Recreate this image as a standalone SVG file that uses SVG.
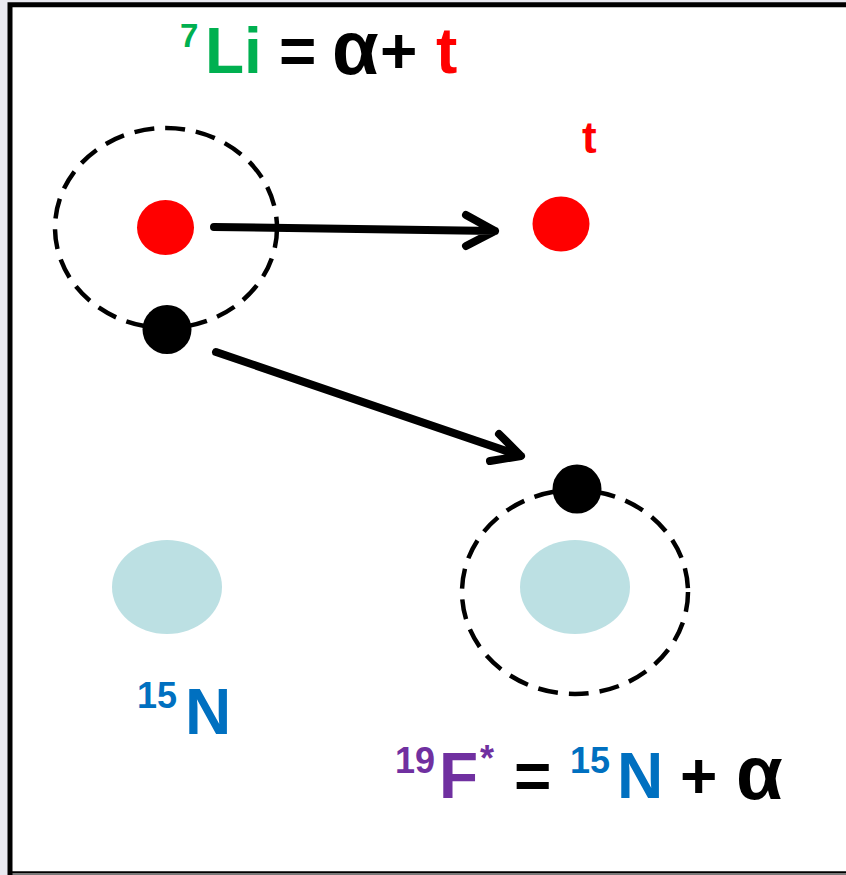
<svg xmlns="http://www.w3.org/2000/svg" width="846" height="875" viewBox="0 0 846 875">
<defs>
<style>
.t{font-family:"Liberation Sans",Arial,sans-serif;font-weight:bold}
.orb{fill:none;stroke:#000;stroke-width:4.5;stroke-dasharray:20 11}
.arr{fill:none;stroke:#000;stroke-width:8;stroke-linecap:round;stroke-linejoin:round}
.core{fill:#bce0e3}
</style>
</defs>
<rect x="0" y="0" width="846" height="875" fill="#e9e9f0"/>
<rect x="10" y="4.75" width="850" height="869" fill="#fff" stroke="#000" stroke-width="5"/>
<line x1="12.5" y1="874" x2="846" y2="874" stroke="#a0a0a0" stroke-width="1.5"/>

<g id="li-orbit">
<ellipse class="orb" cx="166" cy="228" rx="111" ry="100"/>
</g>
<g id="f-orbit">
<ellipse class="orb" cx="575" cy="592" rx="113" ry="102"/>
</g>
<g id="triton-1"><ellipse cx="165.5" cy="227.5" rx="28.5" ry="27.5" fill="#ff0000"/></g>
<g id="alpha-1"><circle cx="167" cy="329.5" r="24.5" fill="#000"/></g>
<g id="triton-2"><ellipse cx="561" cy="224" rx="28.5" ry="27.5" fill="#ff0000"/></g>
<g id="n15-left"><ellipse class="core" cx="167" cy="587" rx="55" ry="47"/></g>
<g id="n15-right"><ellipse class="core" cx="575" cy="587" rx="55" ry="47"/></g>
<g id="alpha-2"><circle cx="577" cy="489" r="24.5" fill="#000"/></g>

<g id="connectors">
<path class="arr" d="M214,227 L495,231 M466,215 L495,231 L466,246"/>
<path class="arr" d="M216,352 L521,456 M499,434 L521,456 L490,461"/>
</g>

<g id="title">
<text class="t" x="180" y="47" font-size="33" fill="#00b050">7</text>
<text class="t" x="205" y="73" font-size="64" fill="#00b050">Li</text>
<text class="t" x="279" y="73" font-size="64" fill="#000">=</text>
<text class="t" x="332" y="74" font-size="76" fill="#000">α</text>
<text class="t" x="380" y="73" font-size="64" fill="#000">+</text>
<text class="t" x="436" y="73" font-size="64" fill="#ff0000">t</text>
</g>
<g id="label-t"><text class="t" x="582" y="153" font-size="44" fill="#ff0000">t</text></g>
<g id="label-n15">
<text class="t" x="137" y="708" font-size="36" fill="#0070c0">15</text>
<text class="t" x="185" y="734" font-size="64" fill="#0070c0">N</text>
</g>
<g id="equation">
<text class="t" x="395" y="773" font-size="36" fill="#7030a0">19</text>
<text class="t" x="439" y="798" font-size="64" fill="#7030a0">F</text>
<text class="t" x="480" y="771" font-size="36" fill="#7030a0">*</text>
<text class="t" x="514" y="798" font-size="64" fill="#000">=</text>
<text class="t" x="570" y="773" font-size="36" fill="#0070c0">15</text>
<text class="t" x="617" y="798" font-size="64" fill="#0070c0">N</text>
<text class="t" x="680" y="798" font-size="64" fill="#000">+</text>
<text class="t" x="736" y="799" font-size="76" fill="#000">α</text>
</g>
</svg>
